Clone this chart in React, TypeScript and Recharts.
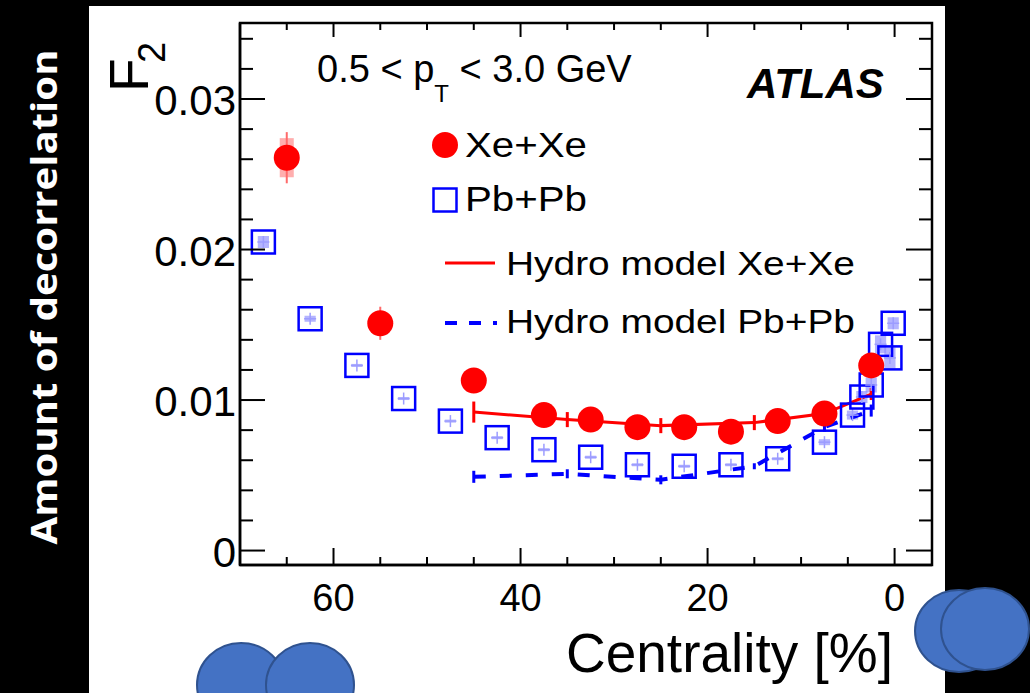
import {
  ComposedChart,
  Scatter,
  Line,
  XAxis,
  YAxis,
  ErrorBar,
  ReferenceArea,
} from "recharts";

// Xe+Xe data points (centrality %, F2, stat error, syst half-height)
const xexeCent = [65, 55, 45, 37.5, 32.5, 27.5, 22.5, 17.5, 12.5, 7.5, 2.5];
const xexeF2 = [0.0261, 0.0151, 0.0113, 0.009, 0.0087, 0.0082, 0.0082, 0.0079, 0.0086, 0.0091, 0.0123];
const xexeStat = [0.0017, 0.0011, 0.0006, 0.0003, 0.0003, 0.0003, 0.0003, 0.0003, 0.0003, 0.0003, 0.0006];
const xexeSyst = [0.0013, 0.0006, 0.0004, 0.0003, 0.0003, 0.0003, 0.0003, 0.0003, 0.0003, 0.0003, 0.0005];

// Pb+Pb data points
const pbpbCent = [67.5, 62.5, 57.5, 52.5, 47.5, 42.5, 37.5, 32.5, 27.5, 22.5, 17.5, 12.5, 7.5, 4.5, 3.5, 2.5, 1.5, 0.5, 0.15];
const pbpbF2 = [0.0205, 0.0154, 0.0123, 0.0101, 0.0086, 0.0075, 0.0067, 0.0062, 0.0057, 0.0056, 0.0057, 0.0061, 0.0072, 0.009, 0.0102, 0.011, 0.0137, 0.0128, 0.0151];
const pbpbSyst = [0.0004, 0.0002, 0.0001, 0.0001, 0.0001, 0.0001, 0.0001, 0.0001, 0.0001, 0.0001, 0.0001, 0.0001, 0.0002, 0.0003, 0.0004, 0.0005, 0.0006, 0.0007, 0.0004];

// hydro model curves
const hydroCent = [45, 35, 25, 15, 7.5, 2.5];
const hydroXeXe = [0.0092, 0.0087, 0.0083, 0.0085, 0.0091, 0.0104];
const hydroXeXeErr = [0.0007, 0.0005, 0.0005, 0.0005, 0.0004, 0.0004];
const hydroPbPb = [0.0049, 0.0051, 0.0047, 0.0056, 0.0082, 0.0093];
const hydroPbPbErr = [0.0004, 0.0003, 0.0003, 0.0002, 0.0003, 0.0004];

// axis ticks
const xTicks = [0, 5, 10, 15, 20, 25, 30, 35, 40, 45, 50, 55, 60, 65];
const yTicks = [0, 0.002, 0.004, 0.006, 0.008, 0.01, 0.012, 0.014, 0.016, 0.018, 0.02, 0.022, 0.024, 0.026, 0.028, 0.03, 0.032, 0.034];

const X_DOMAIN = [-4, 70];
const Y_MIN = -0.00096;
const Y_MAX = 0.03505;

const W = 1030;
const H = 693;
const PLOT_W = 692;
const PLOT_H = 542;
const FONT = "'Liberation Sans', Arial, Helvetica, sans-serif";

const xexeData = xexeCent.map((c, i) => ({ c, v: xexeF2[i], e: xexeStat[i] }));
const pbpbData = pbpbCent.map((c, i) => ({ c, v: pbpbF2[i] }));
const hydroXeData = hydroCent.map((c, i) => ({ c, v: hydroXeXe[i], e: hydroXeXeErr[i] }));
const hydroPbData = hydroCent.map((c, i) => ({ c, v: hydroPbPb[i], e: hydroPbPbErr[i] }));

function XTick(props: any) {
  const { x, y, payload } = props;
  const major = payload.value % 20 === 0;
  return (
    <g>
      <line x1={x} x2={x} y1={y} y2={y - (major ? 17 : 8)} stroke="#000" strokeWidth={2} />
      <line x1={x} x2={x} y1={y - PLOT_H} y2={y - PLOT_H + (major ? 14 : 7)} stroke="#000" strokeWidth={2} />
      {major && (
        <text x={x} y={y + 46} textAnchor="middle" fontSize={38} fontFamily={FONT} fill="#000">
          {payload.value}
        </text>
      )}
    </g>
  );
}

function YTick(props: any) {
  const { x, y, payload } = props;
  const v = payload.value;
  const major = Math.abs(v * 100 - Math.round(v * 100)) < 1e-6;
  return (
    <g>
      <line x1={x} x2={x + (major ? 25 : 13)} y1={y} y2={y} stroke="#000" strokeWidth={2} />
      <line x1={x + PLOT_W} x2={x + PLOT_W - (major ? 26 : 13)} y1={y} y2={y} stroke="#000" strokeWidth={2} />
      {major && (
        <text x={x - 4} y={y + 16} textAnchor="end" fontSize={42} fontFamily={FONT} fill="#000">
          {v === 0 ? "0" : v.toFixed(2)}
        </text>
      )}
    </g>
  );
}

const XeDot = (p: any) => <circle cx={p.cx} cy={p.cy} r={13} fill="#ff0000" />;

const PbSquare = (p: any) => (
  <g>
    <line x1={p.cx - 6} x2={p.cx + 6} y1={p.cy} y2={p.cy} stroke="#9c9cff" strokeWidth={1.5} />
    <line x1={p.cx} x2={p.cx} y1={p.cy - 6} y2={p.cy + 6} stroke="#9c9cff" strokeWidth={1.5} />
    <rect x={p.cx - 11.5} y={p.cy - 11.5} width={23} height={23} fill="none" stroke="#0000ff" strokeWidth={2.5} />
  </g>
);

export default function App() {
  return (
    <div style={{ position: "fixed", left: 0, top: 0, width: W, height: H, background: "#000", overflow: "hidden" }}>
      <div style={{ position: "absolute", left: 89, top: 6, width: 856, height: 687, background: "#fff" }} />
      <div style={{ position: "absolute", left: 0, top: 0 }}>
        <ComposedChart width={W} height={H} margin={{ top: 23, right: 98, bottom: 0, left: 0 }}>
          <XAxis
            type="number"
            dataKey="c"
            domain={X_DOMAIN}
            reversed
            ticks={xTicks}
            interval={0}
            height={128}
            tickSize={0}
            tickMargin={0}
            tickLine={false}
            axisLine={{ stroke: "#000", strokeWidth: 2.5 }}
            tick={<XTick />}
            allowDataOverflow
          />
          <YAxis
            type="number"
            dataKey="v"
            domain={[Y_MIN, Y_MAX]}
            ticks={yTicks}
            interval={0}
            width={240}
            tickSize={0}
            tickMargin={0}
            tickLine={false}
            axisLine={{ stroke: "#000", strokeWidth: 2.5 }}
            tick={<YTick />}
            allowDataOverflow
          />
          {pbpbData.map((d, i) => (
            <ReferenceArea
              key={"pbs" + i}
              x1={d.c - 0.6}
              x2={d.c + 0.6}
              y1={d.v - pbpbSyst[i]}
              y2={d.v + pbpbSyst[i]}
              fill="#8c8cff"
              fillOpacity={0.65}
              stroke="none"
            />
          ))}
          {xexeData.map((d, i) => (
            <ReferenceArea
              key={"xes" + i}
              x1={d.c - 0.75}
              x2={d.c + 0.75}
              y1={d.v - xexeSyst[i]}
              y2={d.v + xexeSyst[i]}
              fill="#ff8c8c"
              fillOpacity={0.7}
              stroke="none"
            />
          ))}
          <Scatter data={pbpbData} dataKey="v" shape={<PbSquare />} isAnimationActive={false} />
          <Line
            data={hydroPbData}
            dataKey="v"
            type="linear"
            stroke="#0000ff"
            strokeWidth={4}
            strokeDasharray="12 14"
            dot={false}
            isAnimationActive={false}
          >
            <ErrorBar dataKey="e" direction="y" width={0} stroke="#0000ff" strokeWidth={3} />
          </Line>
          <Line
            data={hydroXeData}
            dataKey="v"
            type="linear"
            stroke="#ff0000"
            strokeWidth={3}
            dot={false}
            isAnimationActive={false}
          >
            <ErrorBar dataKey="e" direction="y" width={0} stroke="#ff0000" strokeWidth={3} />
          </Line>
          <Scatter data={xexeData} dataKey="v" shape={<XeDot />} isAnimationActive={false}>
            <ErrorBar dataKey="e" direction="y" width={0} stroke="#ff6a6a" strokeWidth={2} />
          </Scatter>
          <ReferenceArea
            x1={X_DOMAIN[0]}
            x2={X_DOMAIN[1]}
            y1={Y_MIN}
            y2={Y_MAX}
            fill="none"
            stroke="#000"
            strokeWidth={2.5}
          />
        </ComposedChart>
      </div>
      <svg width={W} height={H} style={{ position: "absolute", left: 0, top: 0, pointerEvents: "none" }}>
        <text
          transform="translate(57,297) rotate(-90)"
          textAnchor="middle"
          fontFamily="'Open Sans', sans-serif"
          fontWeight="bold"
          fontSize={36}
          fill="#fff"
          textLength={495}
          lengthAdjust="spacingAndGlyphs"
        >
          Amount of decorrelation
        </text>
        <text transform="translate(148,92) rotate(-90)" fontFamily={FONT} fontSize={55} fill="#000">
          F
        </text>
        <text transform="translate(165,63) rotate(-90)" fontFamily={FONT} fontSize={38} fill="#000">
          2
        </text>
        <text x={317} y={82} fontFamily={FONT} fontSize={38} fill="#000">
          0.5 &lt; p
          <tspan dy={20} fontSize={24}>T</tspan>
          <tspan dy={-20}> &lt; 3.0 GeV</tspan>
        </text>
        <text x={747} y={98} fontFamily={FONT} fontSize={42} fontWeight="bold" fontStyle="italic" fill="#000">
          ATLAS
        </text>
        <circle cx={445} cy={145} r={13} fill="#ff0000" />
        <text x={465} y={157} fontFamily={FONT} fontSize={35} fill="#000" textLength={122} lengthAdjust="spacingAndGlyphs">
          Xe+Xe
        </text>
        <rect x={433.5} y={188.5} width={23} height={23} fill="none" stroke="#0000ff" strokeWidth={2.5} />
        <text x={465} y={211} fontFamily={FONT} fontSize={35} fill="#000" textLength={122} lengthAdjust="spacingAndGlyphs">
          Pb+Pb
        </text>
        <line x1={445} x2={495} y1={263} y2={263} stroke="#ff0000" strokeWidth={3} />
        <text x={506} y={275} fontFamily={FONT} fontSize={34} fill="#000" textLength={349} lengthAdjust="spacingAndGlyphs">
          Hydro model Xe+Xe
        </text>
        <line x1={445} x2={497} y1={323} y2={323} stroke="#0000ff" strokeWidth={4} strokeDasharray="12 12" />
        <text x={506} y={333} fontFamily={FONT} fontSize={34} fill="#000" textLength={349} lengthAdjust="spacingAndGlyphs">
          Hydro model Pb+Pb
        </text>
        <text x={893} y={672} textAnchor="end" fontFamily={FONT} fontSize={55} fill="#000">
          Centrality [%]
        </text>
        <ellipse cx={241} cy={685} rx={44} ry={42} fill="#4472c4" stroke="#2f528f" strokeWidth={2} />
        <ellipse cx={310} cy={685} rx={44} ry={42} fill="#4472c4" stroke="#2f528f" strokeWidth={2} />
        <ellipse cx={959} cy={631} rx={44} ry={41} fill="#4472c4" stroke="#2f528f" strokeWidth={2} />
        <ellipse cx={985} cy={629} rx={44} ry={41} fill="#4472c4" stroke="#2f528f" strokeWidth={2} />
      </svg>
    </div>
  );
}
